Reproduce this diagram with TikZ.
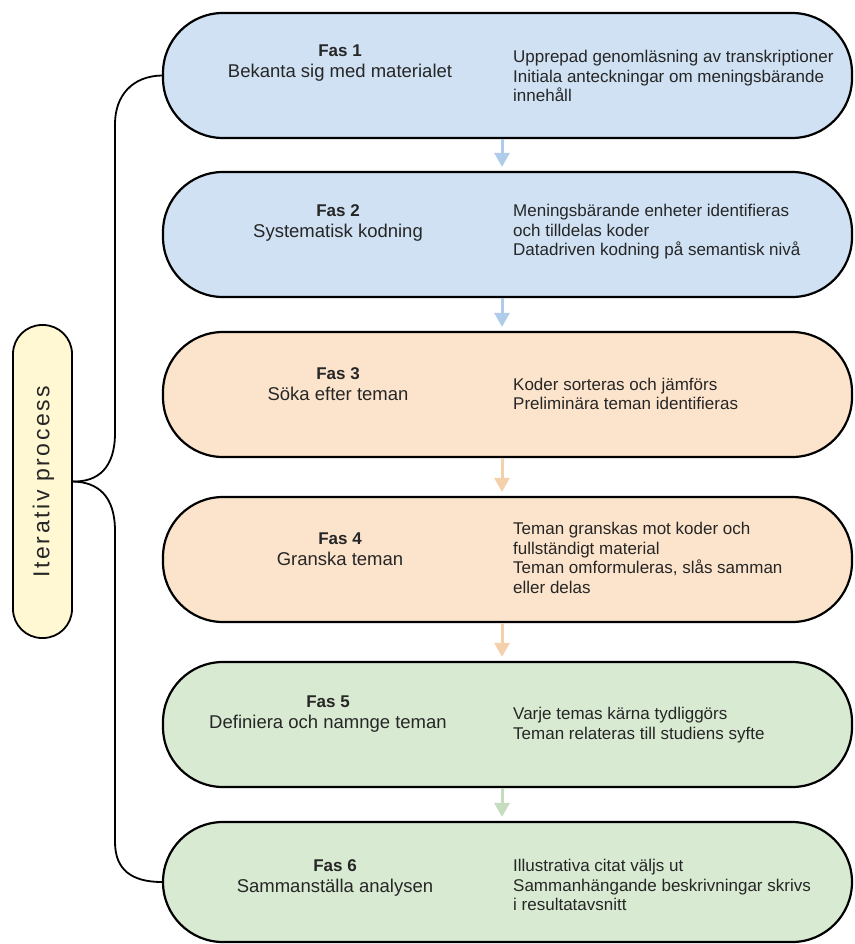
\documentclass[tikz,border=0pt]{standalone}
\usepackage{fontspec}
\setmainfont{Liberation Sans}
\usetikzlibrary{arrows.meta}
\definecolor{bfill}{HTML}{CFE1F3}
\definecolor{barrow}{HTML}{AFCDEA}
\definecolor{pfill}{HTML}{FCE4CC}
\definecolor{parrow}{HTML}{F4D1AC}
\definecolor{gfill}{HTML}{D9EAD3}
\definecolor{garrow}{HTML}{C6DCBE}
\definecolor{yfill}{HTML}{FFF8D3}
\definecolor{txt}{HTML}{262626}
\begin{document}
\begin{tikzpicture}[x=1pt,y=-1pt,
  box/.style={draw=black, line width=2.2pt, rounded corners=60pt, minimum width=689pt, minimum height=125pt, inner sep=0pt},
  lefttext/.style={align=center, inner sep=0pt, text=txt, font=\fontsize{18.5}{21}\selectfont},
  righttext/.style={align=left, anchor=west, inner sep=0pt, text=txt, font=\fontsize{17}{19.5}\selectfont},
  flow/.style={line width=3pt, -{Triangle[width=15pt,length=14pt]}, shorten >=4pt},
  brace/.style={line width=1.8pt, draw=black}]
\useasboundingbox (0,0) rectangle (854,944);
\fill[white] (0,0) rectangle (854,944);

% boxes
\node[box, fill=bfill] (b1) at (507.5,75.5) {};
\node[box, fill=bfill] (b2) at (507.5,234.5) {};
\node[box, fill=pfill] (b3) at (507.5,394.5) {};
\node[box, fill=pfill] (b4) at (507.5,559.5) {};
\node[box, fill=gfill] (b5) at (507.5,724.5) {};
\node[box, fill=gfill, minimum height=120pt] (b6) at (507.5,882) {};

% left texts
\node[lefttext] (l1) at (340,63.5) {{\bfseries\fontsize{17}{21}\selectfont Fas 1}\\Bekanta sig med materialet};
\node[lefttext] (l2) at (338,222.5) {{\bfseries\fontsize{17}{21}\selectfont Fas 2}\\Systematisk kodning};
\node[lefttext] (l3) at (338,384.5) {{\bfseries\fontsize{17}{21}\selectfont Fas 3}\\Söka efter teman};
\node[lefttext] (l4) at (340,549.5) {{\bfseries\fontsize{17}{21}\selectfont Fas 4}\\Granska teman};
\node[lefttext] (l5) at (328,714.5) {{\bfseries\fontsize{17}{21}\selectfont Fas 5}\\Definiera och namnge teman};
\node[lefttext] (l6) at (335,878) {{\bfseries\fontsize{17}{21}\selectfont Fas 6}\\Sammanställa analysen};

% right texts
\node[righttext] (r1) at (513,76) {Upprepad genomläsning av transkriptioner\\Initiala anteckningar om meningsbärande\\innehåll};
\node[righttext] (r2) at (513,232) {Meningsbärande enheter identifieras\\och tilldelas koder\\Datadriven kodning på semantisk nivå};
\node[righttext] (r3) at (513,394) {Koder sorteras och jämförs\\Preliminära teman identifieras};
\node[righttext] (r4) at (513,558) {Teman granskas mot koder och\\fullständigt material\\Teman omformuleras, slås samman\\eller delas};
\node[righttext] (r5) at (513,725) {Varje temas kärna tydliggörs\\Teman relateras till studiens syfte};
\node[righttext] (r6) at (513,885) {Illustrativa citat väljs ut\\Sammanhängande beskrivningar skrivs\\i resultatavsnitt};

% flow arrows
\draw[flow, barrow] ([xshift=-5.5pt]b1.south) -- ([xshift=-5.5pt]b2.north);
\draw[flow, barrow] ([xshift=-5.5pt]b2.south) -- ([xshift=-5.5pt]b3.north);
\draw[flow, parrow] ([xshift=-5.5pt]b3.south) -- ([xshift=-5.5pt]b4.north);
\draw[flow, parrow] ([xshift=-5.5pt]b4.south) -- ([xshift=-5.5pt]b5.north);
\draw[flow, garrow] ([xshift=-5.5pt]b5.south) -- ([xshift=-5.5pt]b6.north);

% iterative process pill
\node[draw=black, line width=1.8pt, fill=yfill, rounded corners=29pt, minimum width=59pt, minimum height=313pt, inner sep=0pt] (pill) at (42.5,481.5) {};
\node[rotate=90, inner sep=0pt, text=txt, font=\fontsize{23}{26}\selectfont\addfontfeatures{LetterSpace=11}] (iter) at ([xshift=1pt]pill.center) {Iterativ process};

% brace
\draw[brace] (b1.west) .. controls (132,76) and (115,96) .. (115,124) -- (115,433) .. controls (115,468) and (98,482) .. (pill.east);
\draw[brace] (pill.east) .. controls (98,482) and (115,496) .. (115,531) -- (115,842) .. controls (115,870) and (132,882) .. (b6.west);
\end{tikzpicture}
\end{document}
